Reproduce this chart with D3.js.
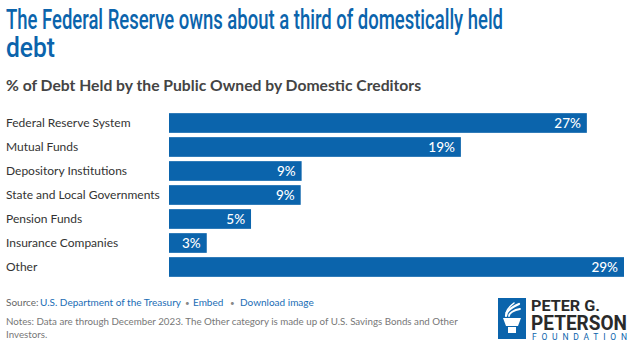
<!DOCTYPE html>
<html><head><meta charset="utf-8">
<script src="https://cdn.jsdelivr.net/npm/d3@7"></script>
<style>
body{margin:0;background:#fff;}
svg{display:block;}
</style></head><body>
<svg id="chart" width="631" height="342"></svg>
<script>
const categories = ["Federal Reserve System","Mutual Funds","Depository Institutions","State and Local Governments","Pension Funds","Insurance Companies","Other"];
const values = [27.0, 18.86, 8.57, 8.51, 5.30, 2.44, 29.4];
const valueLabels = ["27%","19%","9%","9%","5%","3%","29%"];
const titleLines = ["The Federal Reserve owns about a third of domestically held","debt"];
const subtitle = "% of Debt Held by the Public Owned by Domestic Creditors";

const svg = d3.select("#chart");
const blue = "#0b64ac";
const lato = "Lato, 'Open Sans', sans-serif";
const cond = "Roboto, 'Liberation Sans', sans-serif";

// title (condensed look via horizontal squeeze)
const titleWidths = [497, 49];
svg.selectAll("text.title").data(titleLines).join("text")
  .attr("class","title")
  .attr("x",6).attr("y",(d,i)=>29+i*28)
  .attr("fill",blue)
  .attr("font-family",cond).attr("font-weight",500)
  .attr("font-size",28.5)
  .attr("textLength",(d,i)=>titleWidths[i])
  .attr("lengthAdjust","spacingAndGlyphs")
  .text(d=>d);

svg.append("text").attr("x",6).attr("y",91)
  .attr("fill","#444").attr("font-family",lato).attr("font-weight",700)
  .attr("font-size",15.7).text(subtitle);

const x = d3.scaleLinear().domain([0, 29.4]).range([169, 624]);
const y = d3.scaleBand().domain(categories).range([111, 279]).paddingInner(0.18).paddingOuter(0.09);

const rows = svg.append("g").selectAll("g").data(categories).join("g");
rows.append("rect")
  .attr("x",x(0)).attr("y",d=>y(d))
  .attr("width",(d,i)=>x(values[i])-x(0))
  .attr("height",y.bandwidth())
  .attr("fill",blue);
rows.append("text")
  .attr("x",6).attr("y",d=>y(d)+y.bandwidth()/2)
  .attr("dy","0.35em")
  .attr("fill","#333").attr("font-family",lato).attr("font-size",12)
  .text(d=>d);
rows.append("text")
  .attr("x",(d,i)=>x(values[i])-6).attr("y",d=>y(d)+y.bandwidth()/2)
  .attr("dy","0.36em").attr("text-anchor","end")
  .attr("fill","#fff").attr("font-family",lato).attr("font-size",13.5).attr("font-weight",500)
  .text((d,i)=>valueLabels[i]);

// footer
const footer = svg.append("g").attr("font-family",lato).attr("font-size",10);
footer.append("text").attr("x",6).attr("y",306).attr("fill","#666").text("Source:");
footer.append("text").attr("x",40).attr("y",306).attr("fill","#1a6db5").text("U.S. Department of the Treasury");
footer.append("text").attr("x",185).attr("y",306).attr("fill","#888").attr("font-size",8).text("\u2022");
footer.append("text").attr("x",193).attr("y",306).attr("fill","#1a6db5").text("Embed");
footer.append("text").attr("x",230).attr("y",306).attr("fill","#888").attr("font-size",8).text("\u2022");
footer.append("text").attr("x",240).attr("y",306).attr("fill","#1a6db5").text("Download image");

const notes = ["Notes: Data are through December 2023. The Other category is made up of U.S. Savings Bonds and Other","Investors."];
svg.selectAll("text.note").data(notes).join("text").attr("class","note")
  .attr("x",6).attr("y",(d,i)=>325+i*12.5)
  .attr("font-family",lato).attr("font-size",9.75).attr("fill","#777").text(d=>d);

// logo
const logo = svg.append("g");
logo.append("rect").attr("x",498).attr("y",298).attr("width",28).attr("height",41).attr("fill","#0b64ac");
// torch bowl
logo.append("path").attr("d","M503,318 L521,318 L518,326 L506,326 Z").attr("fill","#fff");
logo.append("rect").attr("x",508).attr("y",327).attr("width",8).attr("height",6).attr("fill","#fff");
// flame strokes
[["M506,316 C506,311 512,307 519,304",2.2],["M509,316 C509,313 514,310 520,309",1.8],["M506,313 C507,309 510,306 514,303",1.5]]
  .forEach(p=>logo.append("path").attr("d",p[0]).attr("stroke","#fff").attr("stroke-width",p[1]).attr("fill","none").attr("stroke-linecap","round"));
logo.append("text").attr("x",531).attr("y",311).attr("font-family",cond)
  .attr("font-weight",700).attr("font-size",14).attr("fill","#2a2a2a")
  .attr("textLength",69).attr("lengthAdjust","spacingAndGlyphs").text("PETER G.");
logo.append("text").attr("x",531).attr("y",329.5).attr("font-family",cond)
  .attr("font-weight",700).attr("font-size",19.5).attr("fill","#2a2a2a")
  .attr("textLength",96).attr("lengthAdjust","spacingAndGlyphs").text("PETERSON");
logo.append("text").attr("x",532).attr("y",340).attr("font-family",cond)
  .attr("font-size",8.5).attr("fill","#0b64ac").attr("textLength",95).text("FOUNDATION");
</script>
</body></html>
